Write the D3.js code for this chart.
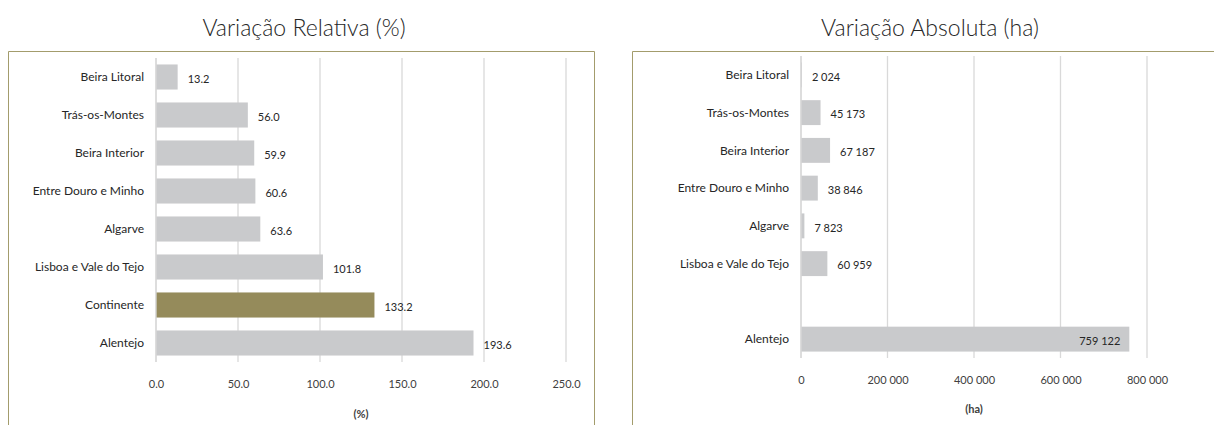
<!DOCTYPE html>
<html>
  <head>
    <meta charset="utf-8" />
    <title>Variação da área</title>
    <script src="https://d3js.org/d3.v7.min.js"></script>
    <style>
      body { margin: 0; background: white; overflow: hidden; }
      svg { display: block; }
      text { font-family: Lato, "Open Sans", sans-serif; }
    </style>
  </head>
  <body>
    <svg id="chart" width="1214" height="425"></svg>

    <script>
    // dados
    var regioes = ["Beira Litoral", "Trás-os-Montes", "Beira Interior", "Entre Douro e Minho",
                   "Algarve", "Lisboa e Vale do Tejo", "Continente", "Alentejo"];
    var variacaoRelativa = [13.2, 56.0, 59.9, 60.6, 63.6, 101.8, 133.2, 193.6];
    var variacaoAbsoluta = [2024, 45173, 67187, 38846, 7823, 60959, null, 759122];
    var ticksRelativa = [0, 50, 100, 150, 200, 250];
    var ticksAbsoluta = [0, 200000, 400000, 600000, 800000];

    var svg = d3.select("#chart");
    var cinza = "#c9cacc", oliva = "#958b5b";

    var fmtRel = d3.format(".1f");
    var fmtAbs = function(v) { return d3.format(",")(v).replace(/,/g, " "); };

    function painel(opt) {
      var g = svg.append("g");

      // moldura: só os lados visíveis (topo, esquerda, e direita se couber)
      var bx = opt.box[0] + 0.5, by = opt.box[1] + 0.5, bw = opt.box[2];
      var moldura = "M" + bx + ",425 V" + by + " H" + (bx + bw);
      if (opt.direita) moldura += " V425";
      g.append("path")
        .attr("d", moldura)
        .attr("fill", "none").attr("stroke", "#a39c6c").attr("stroke-width", 1);

      g.append("text")
        .attr("x", opt.titleX).attr("y", 36)
        .attr("text-anchor", "middle")
        .attr("font-size", 23).attr("font-weight", 300).attr("fill", "#262626")
        .text(opt.title);

      var x = d3.scaleLinear().domain(opt.domain).range(opt.xr);
      var y = d3.scaleBand().domain(regioes).range(opt.yr).paddingInner(0.34).paddingOuter(0.17);

      // grelha
      g.selectAll(".grid").data(opt.ticks).enter().append("line")
        .attr("x1", function(d) { return x(d); }).attr("x2", function(d) { return x(d); })
        .attr("y1", opt.yr[0]).attr("y2", opt.yr[1])
        .attr("stroke", "#d9d9d9").attr("stroke-width", 1.3);

      var dados = regioes.map(function(r, i) { return { regiao: r, valor: opt.values[i] }; });

      g.selectAll(".bar").data(dados.filter(function(d) { return d.valor != null; }))
        .enter().append("rect")
        .attr("x", x(0))
        .attr("y", function(d) { return y(d.regiao); })
        .attr("width", function(d) { return x(d.valor) - x(0); })
        .attr("height", y.bandwidth())
        .attr("fill", function(d) { return d.regiao == opt.destaque ? oliva : cinza; });

      // eixo vertical
      g.append("line")
        .attr("x1", x(0)).attr("x2", x(0))
        .attr("y1", opt.yr[0]).attr("y2", opt.yr[1])
        .attr("stroke", "#d9d9d9").attr("stroke-width", 1.3);

      // categorias
      g.selectAll(".cat").data(dados.filter(function(d) { return d.valor != null; }))
        .enter().append("text")
        .attr("x", x(0) - 12)
        .attr("y", function(d) { return y(d.regiao) + y.bandwidth() / 2; })
        .attr("dy", "0.35em")
        .attr("text-anchor", "end")
        .attr("font-size", 12).attr("fill", "#262626")
        .text(function(d) { return d.regiao; });

      // rótulos dos valores
      g.selectAll(".val").data(dados.filter(function(d) { return d.valor != null; }))
        .enter().append("text")
        .attr("x", function(d) {
          return x(d.valor) > opt.xr[1] - 40 ? x(d.valor) - 9 : x(d.valor) + 10;
        })
        .attr("y", function(d) { return y(d.regiao) + y.bandwidth() / 2 + 2; })
        .attr("dy", "0.35em")
        .attr("text-anchor", function(d) { return x(d.valor) > opt.xr[1] - 40 ? "end" : "start"; })
        .attr("font-size", 11).attr("fill", "#262626")
        .text(function(d) { return opt.fmt(d.valor); });

      // eixo horizontal
      var eixo = g.append("g")
        .attr("transform", "translate(0," + (opt.yr[1] + 12) + ")")
        .call(d3.axisBottom(x).tickValues(opt.ticks).tickFormat(opt.fmtTick).tickSize(0).tickPadding(6));
      eixo.select(".domain").remove();
      eixo.selectAll("text")
        .attr("font-size", 11).attr("fill", "#404040")
        .style("font-family", "Lato, 'Open Sans', sans-serif");

      g.append("text")
        .attr("x", (opt.xr[0] + opt.xr[1]) / 2).attr("y", opt.unitY)
        .attr("text-anchor", "middle")
        .attr("font-size", 11).attr("font-weight", "bold").attr("fill", "#404040")
        .text(opt.unidade);
    }

    painel({
      box: [8, 51, 586], direita: true, title: "Variação Relativa (%)", titleX: 304,
      domain: [0, 250], xr: [156, 566], yr: [58, 362], ticks: ticksRelativa,
      values: variacaoRelativa, destaque: "Continente",
      fmt: fmtRel, fmtTick: fmtRel, unidade: "(%)", unitY: 418
    });

    painel({
      box: [632, 51, 600], direita: false, title: "Variação Absoluta (ha)", titleX: 930,
      domain: [0, 800000], xr: [801, 1147], yr: [56, 358], ticks: ticksAbsoluta,
      values: variacaoAbsoluta, destaque: null,
      fmt: fmtAbs, fmtTick: fmtAbs, unidade: "(ha)", unitY: 413
    });
    </script>
  </body>
</html>
